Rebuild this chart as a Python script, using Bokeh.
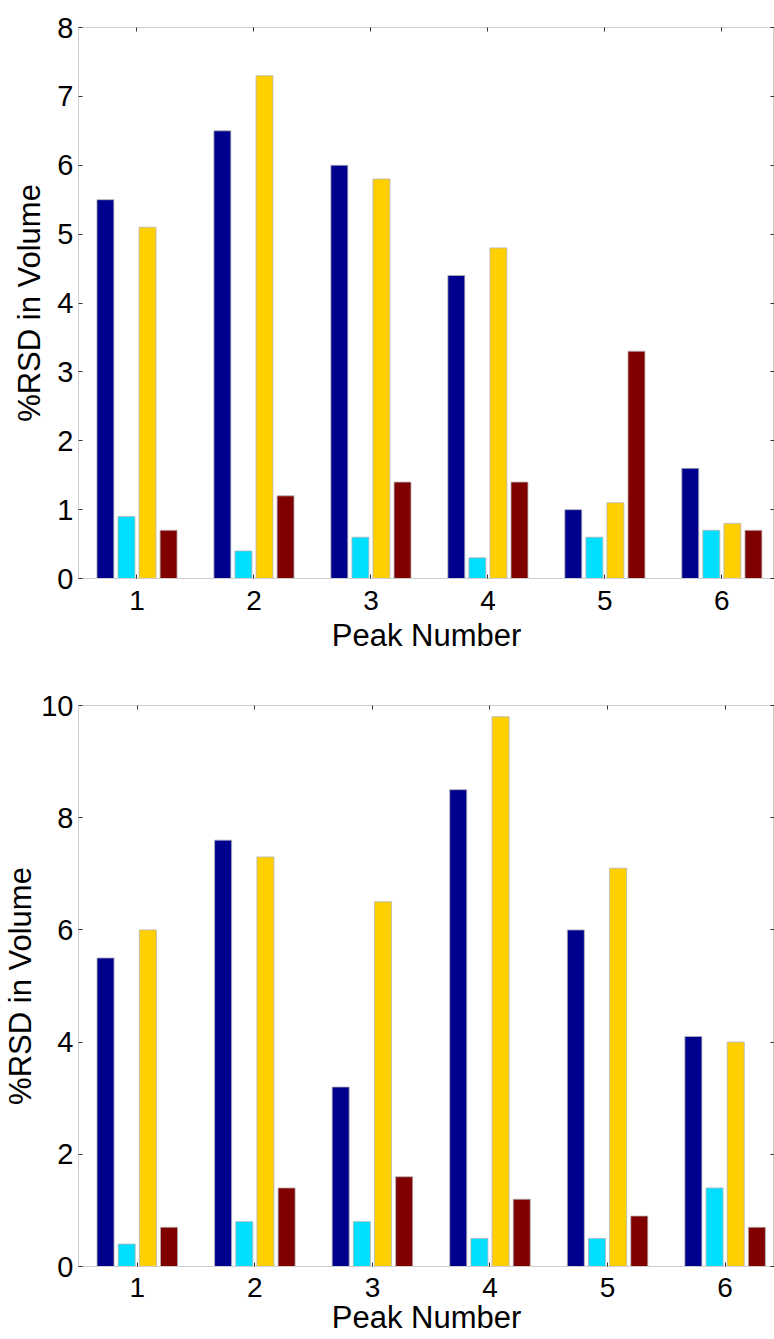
from bokeh.plotting import figure
from bokeh.models import ColumnDataSource, FixedTicker, LinearAxis, Range1d
from bokeh.layouts import column
from bokeh.transform import dodge
from bokeh.embed import file_html
from bokeh.resources import INLINE

# Peak numbers on the x axis
peaks = [1, 2, 3, 4, 5, 6]

# Upper panel: %RSD in volume, four series per peak
upper_s1 = [5.5, 6.5, 6.0, 4.4, 1.0, 1.6]
upper_s2 = [0.9, 0.4, 0.6, 0.3, 0.6, 0.7]
upper_s3 = [5.1, 7.3, 5.8, 4.8, 1.1, 0.8]
upper_s4 = [0.7, 1.2, 1.4, 1.4, 3.3, 0.7]
upper_yticks = [0, 1, 2, 3, 4, 5, 6, 7, 8]

# Lower panel
lower_s1 = [5.5, 7.6, 3.2, 8.5, 6.0, 4.1]
lower_s2 = [0.4, 0.8, 0.8, 0.5, 0.5, 1.4]
lower_s3 = [6.0, 7.3, 6.5, 9.8, 7.1, 4.0]
lower_s4 = [0.7, 1.4, 1.6, 1.2, 0.9, 0.7]
lower_yticks = [0, 2, 4, 6, 8, 10]

series_colors = ["#00008F", "#00DFFF", "#FFCF00", "#800000"]
bar_offsets = [-0.27, -0.09, 0.09, 0.27]
bar_width = 0.145

FONT = "Liberation Sans"
AXIS_GRAY = "#cfcfcf"
TICK_COLOR = "#333333"


def mirror_axis(ticks):
    # unlabeled axis that only carries inward tick marks
    return LinearAxis(ticker=FixedTicker(ticks=ticks), axis_line_color=AXIS_GRAY,
                      major_tick_in=4, major_tick_out=0,
                      major_tick_line_color=TICK_COLOR,
                      minor_tick_line_color=None,
                      major_label_text_font_size="1px",
                      major_label_text_color=None,
                      major_label_standoff=0)


def make_panel(series, yticks, x_end, height, border_left, border_top,
               border_bottom, ylabel_standoff, xlabel_standoff, xtick_standoff):
    src = ColumnDataSource(dict(peak=peaks, s0=series[0], s1=series[1],
                                s2=series[2], s3=series[3]))
    p = figure(width=774, height=height, output_backend="svg",
               toolbar_location=None,
               x_range=Range1d(0.5, x_end),
               y_range=Range1d(yticks[0], yticks[-1]),
               min_border_left=border_left, min_border_right=0,
               min_border_top=border_top, min_border_bottom=border_bottom,
               background_fill_color="white", border_fill_color="white")
    p.grid.visible = False
    p.outline_line_color = AXIS_GRAY

    for i in range(4):
        p.vbar(x=dodge("peak", bar_offsets[i]), top="s%d" % i, width=bar_width,
               bottom=0, source=src, fill_color=series_colors[i],
               line_color="#b5b5b5", line_width=0.8)

    for ax in (p.xaxis[0], p.yaxis[0]):
        ax.axis_line_color = AXIS_GRAY
        ax.major_tick_in = 4
        ax.major_tick_out = 0
        ax.major_tick_line_color = TICK_COLOR
        ax.minor_tick_line_color = None
        ax.major_label_text_font = FONT
        ax.major_label_text_color = "black"
        ax.axis_label_text_font = FONT
        ax.axis_label_text_font_size = "31px"
        ax.axis_label_text_font_style = "normal"
        ax.axis_label_text_color = "black"

    p.xaxis[0].ticker = FixedTicker(ticks=peaks)
    p.xaxis[0].major_label_text_font_size = "28px"
    p.xaxis[0].major_label_standoff = xtick_standoff
    p.xaxis[0].axis_label = "Peak Number"
    p.xaxis[0].axis_label_standoff = xlabel_standoff

    p.yaxis[0].ticker = FixedTicker(ticks=yticks)
    p.yaxis[0].major_label_text_font_size = "29px"
    p.yaxis[0].major_label_standoff = 5
    p.yaxis[0].axis_label = "%RSD in Volume"
    p.yaxis[0].axis_label_standoff = ylabel_standoff

    # tick marks mirrored on the top and right edges
    p.add_layout(mirror_axis(peaks), "above")
    p.add_layout(mirror_axis(yticks), "right")
    return p


p1 = make_panel([upper_s1, upper_s2, upper_s3, upper_s4], upper_yticks,
                6.45, 660, 77, 27, 82, 7, 5, 12)
p2 = make_panel([lower_s1, lower_s2, lower_s3, lower_s4], lower_yticks,
                6.42, 679, 74, 45, 73, 0, 0, 11)

layout = column(p1, p2, spacing=0)
open("out.html", "w").write(file_html(layout, INLINE))
